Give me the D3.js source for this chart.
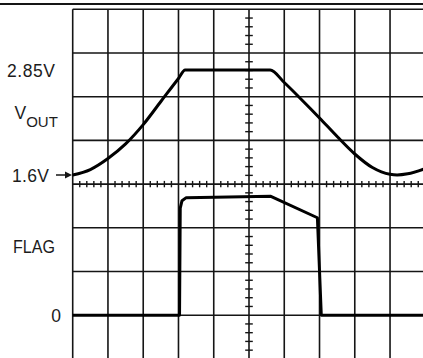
<!DOCTYPE html>
<html>
<head>
<meta charset="utf-8">
<script src="https://cdn.jsdelivr.net/npm/d3@7/dist/d3.min.js"></script>
<style>
  html, body { margin: 0; padding: 0; background: #fff; }
  svg { display: block; }
  text { font-family: "Liberation Sans", Arial, sans-serif; fill: #1c1c1c; }
</style>
</head>
<body>
<svg id="chart" width="423" height="358"></svg>
<script>
// Time axis in screen divisions (10 across), output voltage sampled along it.
const vTime = [0, 0.5, 1.0, 1.5, 2.0, 2.5, 3.0, 3.19, 5.60, 6.0, 6.5, 7.0, 7.5, 8.0, 8.5, 9.0, 9.2, 9.5, 10.0];
const vOut  = [1.600, 1.665, 1.796, 1.970, 2.200, 2.475, 2.749, 2.85, 2.85, 2.701, 2.493, 2.279, 2.058, 1.850, 1.689, 1.608, 1.600, 1.614, 1.677];

// FLAG trace, in vertical divisions above its 0 reference.
const flagTime = [0, 3.03, 3.05, 3.10, 3.22, 5.62, 6.94, 7.05, 10.0];
const flagVal  = [0, 0, 2.45, 2.62, 2.69, 2.72, 2.23, 0, 0];

// Level labels on the left.
const voutLevels = [2.85, 1.6];
const voutLevelText = ["2.85V", "1.6V"];
const flagLevels = [0];
const flagLevelText = ["0"];

const svg = d3.select("#chart");

const xDiv = d3.scaleLinear().domain([0, 10]).range([72.7, 425.3]);
const yDiv = d3.scaleLinear().domain([0, 8]).range([9.3, 358.9]);
const yV = d3.scaleLinear().domain([1.6, 2.85]).range([175, 70]);
const yFlag = d3.scaleLinear().domain([0, 1]).range([yDiv(7), yDiv(6)]);

const ink = "#151515";

// Frame line across the top.
svg.append("line")
  .attr("x1", 0).attr("x2", 423).attr("y1", 4).attr("y2", 4)
  .attr("stroke", ink).attr("stroke-width", 2);

// Graticule.
const grid = svg.append("g").attr("stroke", ink).attr("stroke-width", 1.6);
grid.selectAll("line.v").data(d3.range(0, 11)).join("line")
  .attr("class", "v")
  .attr("x1", d => xDiv(d)).attr("x2", d => xDiv(d))
  .attr("y1", yDiv(0)).attr("y2", yDiv(8));
grid.selectAll("line.h").data(d3.range(0, 9)).join("line")
  .attr("class", "h")
  .attr("x1", xDiv(0)).attr("x2", xDiv(10))
  .attr("y1", d => yDiv(d)).attr("y2", d => yDiv(d));

// Minor ticks on the centre axes (5 per division).
const ticks = svg.append("g").attr("stroke", ink).attr("stroke-width", 1.4);
const hMinor = d3.range(1, 50).filter(i => i % 5 !== 0).map(i => i / 5);
ticks.selectAll("line.ht").data(hMinor).join("line")
  .attr("class", "ht")
  .attr("x1", d => xDiv(d)).attr("x2", d => xDiv(d))
  .attr("y1", yDiv(4) - 3.2).attr("y2", yDiv(4) + 3.2);
const vMinor = d3.range(1, 40).filter(i => i % 5 !== 0).map(i => i / 5);
ticks.selectAll("line.vt").data(vMinor).join("line")
  .attr("class", "vt")
  .attr("x1", xDiv(5) - 3.8).attr("x2", xDiv(5) + 3.8)
  .attr("y1", d => yDiv(d)).attr("y2", d => yDiv(d));

// Traces.
const vLine = d3.line()
  .x((d, i) => xDiv(vTime[i]))
  .y(d => yV(d))
  .curve(d3.curveMonotoneX);
svg.append("path")
  .attr("d", vLine(vOut))
  .attr("fill", "none").attr("stroke", "#000").attr("stroke-width", 3)
  .attr("stroke-linejoin", "round");

const fLine = d3.line()
  .x((d, i) => xDiv(flagTime[i]))
  .y(d => yFlag(d));
svg.append("path")
  .attr("d", fLine(flagVal))
  .attr("fill", "none").attr("stroke", "#000").attr("stroke-width", 3)
  .attr("stroke-linejoin", "round");

// Labels (left aligned at measured start positions, fixed widths).
const lab = svg.append("g").attr("font-size", 17.5);
lab.append("text").attr("x", 7).attr("y", yV(voutLevels[0]) + 7.3)
  .attr("textLength", 48).attr("lengthAdjust", "spacing").text(voutLevelText[0]);
lab.append("text").attr("x", 12).attr("y", yV(voutLevels[1]) + 6.7)
  .attr("textLength", 37).attr("lengthAdjust", "spacing").text(voutLevelText[1]);

const vo = svg.append("text").attr("x", 14.5).attr("y", 118.5).attr("font-size", 17.5);
vo.append("tspan").text("V");
vo.append("tspan").attr("dy", 8.5).attr("font-size", 15).text("OUT");

lab.append("text").attr("x", 13).attr("y", 252.7)
  .attr("textLength", 42).attr("lengthAdjust", "spacingAndGlyphs").text("FLAG");
lab.append("text").attr("x", 61).attr("y", yFlag(flagLevels[0]) + 6.5)
  .attr("text-anchor", "end").text(flagLevelText[0]);

// Arrow pointing at the 1.6V start level.
const ay = yV(voutLevels[1]);
svg.append("line")
  .attr("x1", 56).attr("x2", 66).attr("y1", ay).attr("y2", ay)
  .attr("stroke", ink).attr("stroke-width", 1.5);
svg.append("path")
  .attr("d", `M${65},${ay - 3.5}L${72},${ay}L${65},${ay + 3.5}Z`)
  .attr("fill", ink);
</script>
</body>
</html>
